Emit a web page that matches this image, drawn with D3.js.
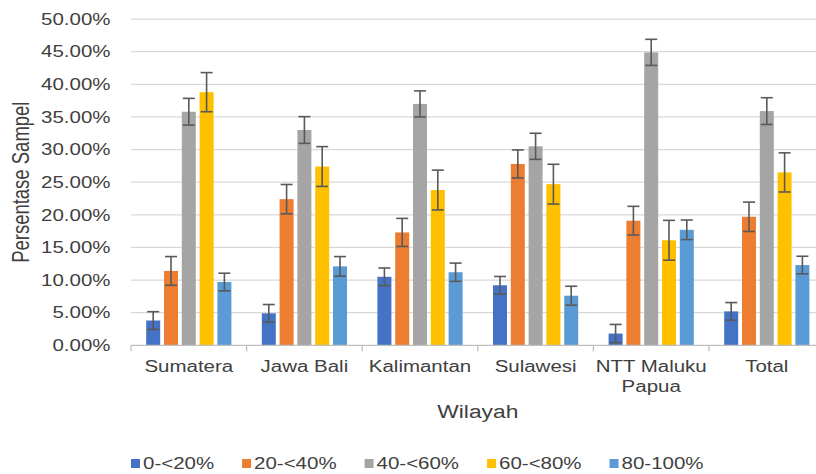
<!DOCTYPE html>
<html>
<head>
<meta charset="utf-8">
<script src="https://cdn.jsdelivr.net/npm/d3@7/dist/d3.min.js"></script>
<style>
  html, body { margin: 0; padding: 0; background: #fff; }
  svg { display: block; font-family: "Liberation Sans", Arial, sans-serif; }
</style>
</head>
<body>
<svg id="chart" width="816" height="474"></svg>
<script>
// ---- data ----
const categories = ["Sumatera", "Jawa Bali", "Kalimantan", "Sulawesi", "NTT Maluku|Papua", "Total"];
const seriesNames = ["0-<20%", "20-<40%", "40-<60%", "60-<80%", "80-100%"];
const values0 = [3.8, 4.9, 10.5, 9.2, 1.8, 5.2];
const values1 = [11.4, 22.4, 17.3, 27.8, 19.1, 19.7];
const values2 = [35.8, 33.0, 37.0, 30.5, 44.9, 35.9];
const values3 = [38.8, 27.4, 23.8, 24.7, 16.1, 26.5];
const values4 = [9.7, 12.1, 11.2, 7.6, 17.7, 12.3];
const errors0 = [1.35, 1.35, 1.35, 1.35, 1.4, 1.35];
const errors1 = [2.2, 2.25, 2.15, 2.15, 2.2, 2.25];
const errors2 = [2.05, 2.05, 2.0, 2.0, 2.0, 2.05];
const errors3 = [3.0, 3.05, 3.05, 3.05, 3.05, 3.0];
const errors4 = [1.35, 1.5, 1.4, 1.45, 1.5, 1.35];
const yTicks = [0, 5, 10, 15, 20, 25, 30, 35, 40, 45, 50];
const colors = ["#4472C4", "#ED7D31", "#A5A5A5", "#FFC000", "#5B9BD5"];
const xTitle = "Wilayah";
const yTitle = "Persentase Sampel";

const allValues = [values0, values1, values2, values3, values4];
const allErrors = [errors0, errors1, errors2, errors3, errors4];

// ---- layout ----
const SX = 1.28; // horizontal text stretch of the reference
const svg = d3.select("#chart");
const plotLeft = 131, plotRight = 824.6, plotTop = 19.1, plotBottom = 345.3;

const x = d3.scaleBand().domain(categories).range([plotLeft, plotRight]).padding(0);
const inner = d3.scaleBand().domain(d3.range(seriesNames.length))
  .range([0, 17.8 * 5]).paddingInner(0).paddingOuter(0);
const barW = 14;
const groupOffset = (x.bandwidth() - (inner.step() * 4 + barW)) / 2;
const y = d3.scaleLinear().domain([0, 50]).range([plotBottom, plotTop]);

// gridlines
svg.append("g").selectAll("line").data(yTicks.filter(d => d > 0)).join("line")
  .attr("x1", plotLeft).attr("x2", 816)
  .attr("y1", d => y(d)).attr("y2", d => y(d))
  .attr("stroke", "#D9D9D9").attr("stroke-width", 1.3);

// y tick labels
svg.append("g").selectAll("text").data(yTicks).join("text")
  .attr("transform", d => `translate(110.5,${y(d)}) scale(${SX},1)`)
  .attr("text-anchor", "end").attr("dy", "0.36em")
  .attr("font-size", 16).attr("fill", "#404040")
  .text(d => d3.format(".2f")(d) + "%");

// bars
const bars = svg.append("g");
allValues.forEach((vals, si) => {
  bars.append("g").selectAll("rect").data(vals).join("rect")
    .attr("x", (d, i) => x(categories[i]) + groupOffset + inner(si))
    .attr("width", barW)
    .attr("y", d => y(d))
    .attr("height", d => y(0) - y(d))
    .attr("fill", colors[si]);
});

// error bars
const eb = svg.append("g").attr("stroke", "#595959").attr("stroke-width", 1.6).attr("fill", "none");
allValues.forEach((vals, si) => {
  vals.forEach((v, i) => {
    const cx = x(categories[i]) + groupOffset + inner(si) + barW / 2;
    const e = allErrors[si][i];
    const y1 = y(v + e), y2 = y(Math.max(0, v - e));
    eb.append("line").attr("x1", cx).attr("x2", cx).attr("y1", y1).attr("y2", y2);
    eb.append("line").attr("x1", cx - 6).attr("x2", cx + 6).attr("y1", y1).attr("y2", y1);
    eb.append("line").attr("x1", cx - 6).attr("x2", cx + 6).attr("y1", y2).attr("y2", y2);
  });
});

// x axis line and ticks
const ax = svg.append("g").attr("stroke", "#BFBFBF").attr("stroke-width", 1.3);
ax.append("line").attr("x1", plotLeft).attr("x2", 816).attr("y1", plotBottom).attr("y2", plotBottom);
categories.forEach(c => {
  ax.append("line").attr("x1", x(c)).attr("x2", x(c)).attr("y1", plotBottom).attr("y2", plotBottom + 6);
});

// category labels
const cl = svg.append("g");
categories.forEach(c => {
  const lines = c.split("|");
  lines.forEach((ln, li) => {
    cl.append("text")
      .attr("transform", `translate(${x(c) + x.bandwidth() / 2},${372 + li * 19.5}) scale(${SX},1)`)
      .attr("text-anchor", "middle").attr("font-size", 16).attr("fill", "#404040")
      .text(ln);
  });
});

// axis titles
svg.append("text")
  .attr("transform", `translate(${(plotLeft + plotRight) / 2},418) scale(${SX},1)`)
  .attr("text-anchor", "middle").attr("font-size", 17.8).attr("fill", "#404040")
  .text(xTitle);
svg.append("text")
  .attr("transform", `translate(29,${(plotTop + plotBottom) / 2}) rotate(-90) scale(1,${SX})`)
  .attr("text-anchor", "middle").attr("font-size", 18.5).attr("fill", "#404040")
  .text(yTitle);

// legend
const lg = svg.append("g");
let lx = 131;
seriesNames.forEach((name, si) => {
  lg.append("rect").attr("x", lx).attr("y", 459).attr("width", 9).attr("height", 9).attr("fill", colors[si]);
  const t = lg.append("text")
    .attr("transform", `translate(${lx + 12},469) scale(${SX},1)`)
    .attr("font-size", 16).attr("fill", "#404040").text(name);
  const w = t.node().getComputedTextLength() * SX;
  lx = lx + 12 + w + 28;
});
</script>
</body>
</html>
